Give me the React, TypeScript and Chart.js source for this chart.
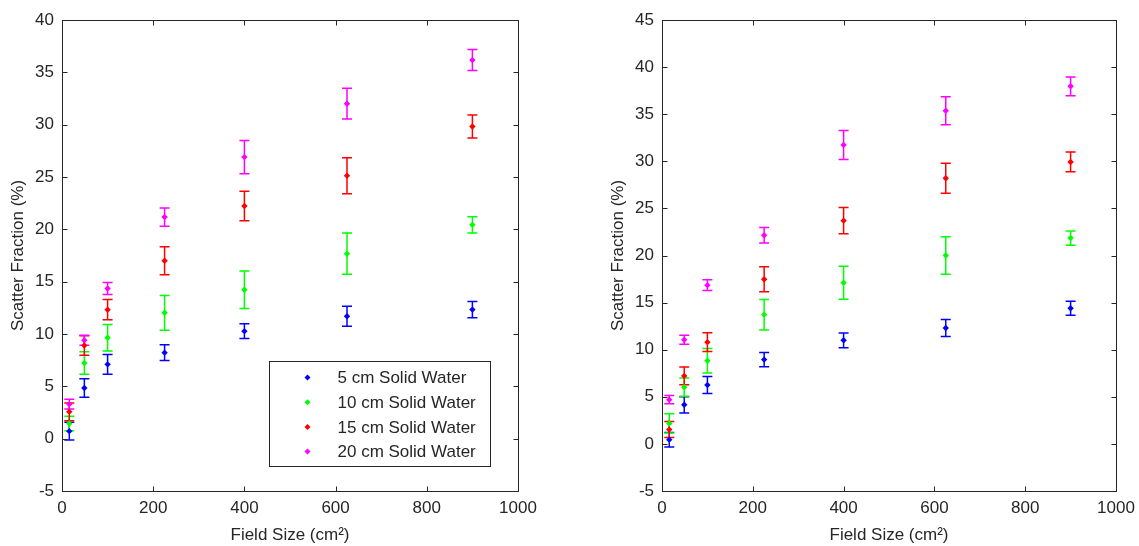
import React, { useEffect, useRef } from "react";
import { Chart, registerables } from "chart.js";

Chart.register(...registerables);

// ---------- data ----------
const fieldSizes = [16, 49, 100, 225, 400, 625, 900];
const seriesLabels = ["5 cm Solid Water", "10 cm Solid Water", "15 cm Solid Water", "20 cm Solid Water"];
const seriesColors = ["#0000ff", "#00ff00", "#ff0000", "#ff00ff"];

// left panel
const left5 = [0.72, 4.84, 7.1, 8.22, 10.27, 11.7, 12.33];
const left5Err = [0.85, 0.88, 0.95, 0.75, 0.7, 0.95, 0.77];
const left10 = [1.45, 7.23, 9.64, 12.03, 14.23, 17.67, 20.43];
const left10Err = [0.7, 1.07, 1.27, 1.66, 1.8, 1.97, 0.78];
const left15 = [2.56, 8.9, 12.32, 17.0, 22.23, 25.13, 29.83];
const left15Err = [0.85, 0.93, 0.97, 1.33, 1.42, 1.72, 1.1];
const left20 = [3.3, 9.4, 14.35, 21.17, 26.9, 32.0, 36.17];
const left20Err = [0.46, 0.48, 0.57, 0.88, 1.58, 1.47, 1.0];

// right panel
const right5 = [0.45, 4.15, 6.25, 8.95, 11.0, 12.3, 14.4];
const right5Err = [0.77, 0.86, 0.9, 0.76, 0.78, 0.9, 0.75];
const right10 = [2.17, 6.02, 8.82, 13.72, 17.11, 20.0, 21.85];
const right10Err = [1.02, 0.97, 1.3, 1.62, 1.76, 2.0, 0.76];
const right15 = [1.52, 7.22, 10.8, 17.48, 23.7, 28.2, 29.93];
const right15Err = [0.85, 0.95, 1.0, 1.33, 1.4, 1.6, 1.05];
const right20 = [4.7, 11.05, 16.85, 22.15, 31.74, 35.37, 37.96];
const right20Err = [0.43, 0.48, 0.57, 0.83, 1.54, 1.48, 1.0];

const xMin = 0;
const xMax = 1000;
const xStep = 200;
const yMin = -5;
const leftYMax = 40;
const rightYMax = 45;
const yStep = 5;

const xTitle = "Field Size (cm\u00B2)";
const yTitle = "Scatter Fraction (%)";

// ---------- styling ----------
const FONT = "'Liberation Sans', Arial, Helvetica, sans-serif";
const INK = "#262626";
const FONT_SIZE = 17;

function buildDatasets(values: number[][], errs: number[][]) {
  return values.map((vals, i) => ({
    label: seriesLabels[i],
    data: vals.map((v, j) => ({ x: fieldSizes[j], y: v })),
    errors: errs[i],
    backgroundColor: seriesColors[i],
    borderColor: seriesColors[i],
    pointStyle: "rectRot",
    pointRadius: 3.2,
    pointBorderWidth: 0,
    showLine: false,
  }));
}

const matlabPlugin = {
  id: "matlab",
  beforeDatasetsDraw(chart: any) {
    const { ctx } = chart;
    const xs = chart.scales.x;
    const ys = chart.scales.y;
    chart.data.datasets.forEach((ds: any) => {
      ctx.save();
      ctx.strokeStyle = ds.borderColor;
      ctx.lineWidth = 1.5;
      ds.data.forEach((p: any, j: number) => {
        const e = ds.errors[j];
        const px = xs.getPixelForValue(p.x);
        const t = ys.getPixelForValue(p.y + e);
        const b = ys.getPixelForValue(p.y - e);
        ctx.beginPath();
        ctx.moveTo(px, t);
        ctx.lineTo(px, b);
        ctx.moveTo(px - 5, t);
        ctx.lineTo(px + 5, t);
        ctx.moveTo(px - 5, b);
        ctx.lineTo(px + 5, b);
        ctx.stroke();
      });
      ctx.restore();
    });
  },
  afterDraw(chart: any, _args: any, opts: any) {
    const { ctx, chartArea } = chart;
    const { left, right, top, bottom } = chartArea;
    const xs = chart.scales.x;
    const ys = chart.scales.y;
    ctx.save();
    ctx.strokeStyle = INK;
    ctx.lineWidth = 1;
    const L = Math.round(left) + 0.5;
    const R = Math.round(right) + 0.5;
    const T = Math.round(top) + 0.5;
    const B = Math.round(bottom) + 0.5;
    ctx.strokeRect(L, T, R - L, B - T);
    ctx.beginPath();
    xs.ticks.forEach((_t: any, i: number) => {
      const px = Math.round(xs.getPixelForTick(i)) + 0.5;
      ctx.moveTo(px, B);
      ctx.lineTo(px, B - 5);
      ctx.moveTo(px, T);
      ctx.lineTo(px, T + 5);
    });
    ys.ticks.forEach((_t: any, i: number) => {
      const py = Math.round(ys.getPixelForTick(i)) + 0.5;
      ctx.moveTo(L, py);
      ctx.lineTo(L + 5, py);
      ctx.moveTo(R, py);
      ctx.lineTo(R - 5, py);
    });
    ctx.stroke();

    if (opts && opts.legend) {
      const w = 221;
      const h = 105;
      const bx = Math.round(right - 28 - w) + 0.5;
      const by = Math.round(bottom - 25 - h) + 0.5;
      ctx.fillStyle = "#ffffff";
      ctx.fillRect(bx, by, w, h);
      ctx.strokeStyle = INK;
      ctx.strokeRect(bx, by, w, h);
      ctx.font = `${FONT_SIZE}px ${FONT}`;
      ctx.textBaseline = "middle";
      ctx.textAlign = "left";
      chart.data.datasets.forEach((ds: any, i: number) => {
        const cy = by + 16 + i * 24.7;
        const mx = bx + 38;
        ctx.fillStyle = ds.backgroundColor;
        ctx.beginPath();
        ctx.moveTo(mx, cy - 3);
        ctx.lineTo(mx + 3, cy);
        ctx.lineTo(mx, cy + 3);
        ctx.lineTo(mx - 3, cy);
        ctx.closePath();
        ctx.fill();
        ctx.fillStyle = INK;
        ctx.fillText(ds.label, bx + 68, cy + 1);
      });
    }
    ctx.restore();
  },
};

function Panel(props: {
  values: number[][];
  errs: number[][];
  yMax: number;
  legend: boolean;
  left: number;
  width: number;
  padRight: number;
}) {
  const ref = useRef<HTMLCanvasElement>(null);
  useEffect(() => {
    if (!ref.current) return;
    const chart = new Chart(ref.current, {
      type: "scatter",
      data: { datasets: buildDatasets(props.values, props.errs) as any },
      plugins: [matlabPlugin],
      options: {
        responsive: false,
        animation: false,
        events: [],
        layout: { padding: { top: 20, right: props.padRight, left: 0, bottom: 0 } },
        plugins: {
          legend: { display: false },
          tooltip: { enabled: false },
          matlab: { legend: props.legend },
        } as any,
        scales: {
          x: {
            type: "linear",
            min: xMin,
            max: xMax,
            grid: { display: false, drawTicks: false },
            border: { display: false },
            ticks: {
              stepSize: xStep,
              padding: 7,
              color: INK,
              font: { family: FONT, size: FONT_SIZE },
              maxRotation: 0,
              callback: (v: any) => String(v),
            },
            title: {
              display: true,
              text: xTitle,
              color: INK,
              font: { family: FONT, size: FONT_SIZE },
              padding: { top: 0, bottom: 0 },
            },
            afterFit: (s: any) => {
              s.height = 55;
            },
          },
          y: {
            type: "linear",
            min: yMin,
            max: props.yMax,
            grid: { display: false, drawTicks: false },
            border: { display: false },
            ticks: {
              stepSize: yStep,
              padding: 8,
              color: INK,
              font: { family: FONT, size: FONT_SIZE },
              callback: (v: any) => String(v),
            },
            title: {
              display: true,
              text: yTitle,
              color: INK,
              font: { family: FONT, size: FONT_SIZE },
              padding: { top: 8, bottom: 0 },
            },
            afterFit: (s: any) => {
              s.width = 62;
            },
          },
        },
      } as any,
    });
    return () => chart.destroy();
  }, []);
  return (
    <canvas
      ref={ref}
      width={props.width}
      height={546}
      style={{ position: "absolute", left: props.left, top: 0, width: props.width, height: 546 }}
    />
  );
}

export default function App() {
  return (
    <div
      style={{
        position: "fixed",
        left: 0,
        top: 0,
        width: 1139,
        height: 546,
        background: "#ffffff",
        overflow: "hidden",
      }}
    >
      <Panel
        values={[left5, left10, left15, left20]}
        errs={[left5Err, left10Err, left15Err, left20Err]}
        yMax={leftYMax}
        legend={true}
        left={0}
        width={560}
        padRight={42}
      />
      <Panel
        values={[right5, right10, right15, right20]}
        errs={[right5Err, right10Err, right15Err, right20Err]}
        yMax={rightYMax}
        legend={false}
        left={600}
        width={546}
        padRight={30}
      />
    </div>
  );
}
